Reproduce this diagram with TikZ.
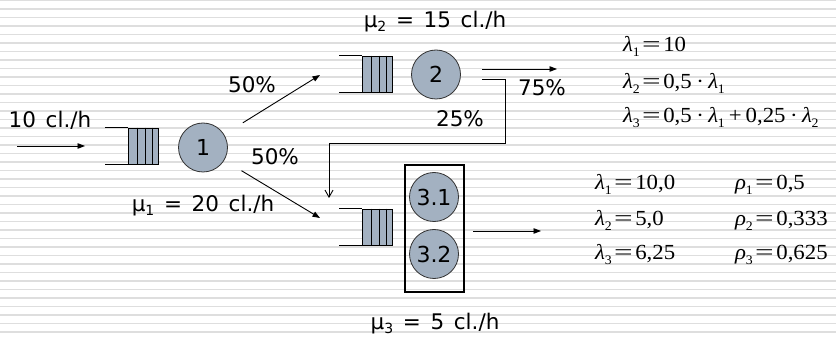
\documentclass[tikz,border=0pt]{standalone}
\usepackage{graphicx}
\usepackage{fontspec}
\setmainfont{DejaVu Sans}
\newfontfamily\tms[FakeStretch=1.06]{Liberation Serif}
\usetikzlibrary{arrows.meta}
\definecolor{qfill}{RGB}{163,177,193}
\definecolor{stripecol}{RGB}{222,222,222}
\newcommand\lowsub[1]{\raisebox{-4.5pt}{\fontsize{13}{13}\selectfont #1}}
\newcommand\musub[1]{\raisebox{-0.3ex}{\fontsize{14}{14}\selectfont #1}}
\newcommand\lam[1]{{\itshape λ}\kern-0.3pt\lowsub{#1}}
\newcommand\rh[1]{{\itshape ρ}\kern-0.3pt\lowsub{#1}}
\newcommand\eq{\kern2.5pt\scalebox{1.45}[1]{=}\kern2.5pt}
\newcommand\cdt{\kern4.5pt·\kern4.5pt}
\newcommand\pls{\kern4pt+\kern4pt}
\newcommand\wsp{\hspace{0.45em}}
\begin{document}
\begin{tikzpicture}[x=1pt,y=-1pt,
  lbl/.style={font=\fontsize{21.5}{24}\selectfont, inner sep=0pt, anchor=base},
  mth/.style={font=\tms\fontsize{21.5}{24}\selectfont, inner sep=0pt, anchor=base west},
  srv/.style={circle, draw=black!80, fill=qfill, minimum size=49pt, inner sep=0pt, font=\fontsize{22}{24}\selectfont, line width=0.8pt},
  qbox/.style={draw, fill=qfill, minimum width=30pt, minimum height=36pt, inner sep=0pt, line width=0.8pt},
  arr/.style={-{Triangle[length=7.5pt,width=5.5pt]}, line width=0.9pt},
  openarr/.style={-{Straight Barb[length=7pt,width=8pt]}, line width=0.9pt},
  thinln/.style={line width=0.9pt}
]
\useasboundingbox (0,0) rectangle (836,339);
\fill[white] (0,0) rectangle (836,339);
\foreach \k in {0,...,39} \draw[stripecol, line width=1.6pt] (0,{0.7+8.5*\k}) -- (836,{0.7+8.5*\k});

% queues
\node[qbox] (q1) at (143.5,146) {};
\node[qbox] (q2) at (377,74) {};
\node[qbox] (q3) at (377,227) {};
\foreach \q in {q1,q2,q3} {
  \draw[thinln] (\q.north west) -- ++(-23,0);
  \draw[thinln] (\q.south west) -- ++(-23,0);
  \draw[line width=0.8pt] (\q.north west) ++(9.5,0) -- ++(0,36);
  \draw[line width=0.8pt] (\q.north west) ++(17.5,0) -- ++(0,36);
  \draw[line width=0.8pt] (\q.north west) ++(24.5,0) -- ++(0,36);
}

% servers
\node[srv] (c1) at (203,147.5) {1};
\node[srv] (c2) at (436,74.5) {2};
\node[draw, line width=2.4pt, minimum width=58.5pt, minimum height=126.5pt, inner sep=0pt] (b3) at (434.5,228.5) {};
\node[srv] (c31) at (434,197) {3.1};
\node[srv] (c32) at (434,254) {3.2};

% connectors
\coordinate (a0) at (17,146);
\coordinate (a1) at (85,146);
\draw[arr] (a0) -- (a1);
\coordinate (t2) at (320,75);
\coordinate (t3) at (320,218);
\draw[arr, shorten <=22pt] (c1) -- (t2);
\draw[arr, shorten <=20pt] (c1) -- (t3);
\coordinate (o2s) at (482,69);
\coordinate (o2e) at (557,69);
\draw[arr] (o2s) -- (o2e);
\coordinate (f0) at (482,79);
\coordinate (f1) at (505,79);
\coordinate (f2) at (505,143);
\coordinate (f3) at (329,143);
\coordinate (f4) at (329,198);
\draw[openarr] (f0) -- (f1) -- (f2) -- (f3) -- (f4);
\coordinate (o3s) at (473,231);
\coordinate (o3e) at (541,231);
\draw[arr] (o3s) -- (o3e);

% labels
\node[lbl] (l10) at (50,128) {10\wsp cl./h};
\node[lbl] (mu1) at (203,212) {μ\musub{1}\wsp=\wsp20\wsp cl./h};
\node[lbl] (mu2) at (435,28) {μ\musub{2}\wsp=\wsp15\wsp cl./h};
\node[lbl] (mu3) at (435,330) {μ\musub{3}\wsp=\wsp5\wsp cl./h};
\node[lbl] (p50a) at (252,93) {50\%};
\node[lbl] (p50b) at (275,165) {50\%};
\node[lbl] (p75) at (542,96) {75\%};
\node[lbl] (p25) at (460,127) {25\%};

% equations
\node[mth] (e1) at (623,52) {\lam{1}\eq 10};
\node[mth] (e2) at (623,89) {\lam{2}\eq 0,5\cdt\lam{1}};
\node[mth] (e3) at (623,123) {\lam{3}\eq 0,5\cdt\lam{1}\pls 0,25\cdt\lam{2}};
\node[mth] (r1l) at (595,190) {\lam{1}\eq 10,0};
\node[mth] (r2l) at (595,226) {\lam{2}\eq 5,0};
\node[mth] (r3l) at (595,260) {\lam{3}\eq 6,25};
\node[mth] (r1r) at (735,190) {\rh{1}\eq 0,5};
\node[mth] (r2r) at (735,226) {\rh{2}\eq 0,333};
\node[mth] (r3r) at (735,260) {\rh{3}\eq 0,625};
\end{tikzpicture}
\end{document}
